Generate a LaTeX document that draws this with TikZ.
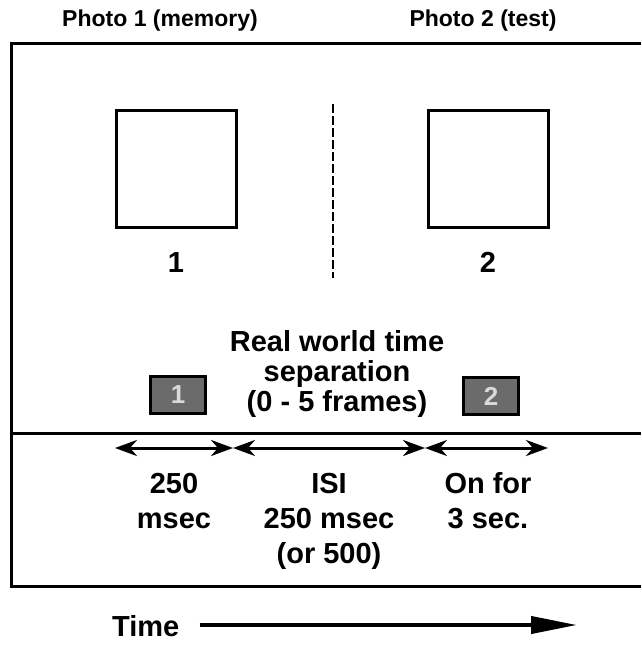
\documentclass[tikz,border=0pt]{standalone}
\usepackage{fontspec}
\setmainfont{Liberation Sans}
\usetikzlibrary{arrows.meta}
\begin{document}
\begin{tikzpicture}[x=1pt,y=-1pt,
  frame/.style={line width=3pt},
  photo/.style={draw,line width=3pt,minimum width=120pt,minimum height=117pt,inner sep=0pt},
  title/.style={font=\fontsize{23}{27}\selectfont\bfseries,anchor=base,inner sep=0pt},
  lab/.style={font=\fontsize{29}{33}\selectfont\bfseries,anchor=base,inner sep=0pt},
  cue/.style={draw,line width=2.2pt,fill=black!58,minimum width=55pt,minimum height=37pt,inner sep=0pt,
    text=white!85!black,font=\fontsize{26}{30}\selectfont\bfseries},
  span/.style={line width=3pt,{Stealth[length=22pt,width=16pt,inset=7pt]}-{Stealth[length=22pt,width=16pt,inset=7pt]}},
  timearrow/.style={line width=4pt,-{Triangle[length=46pt,width=17pt]}}
]
\useasboundingbox (0,0) rectangle (641,647);

% column headings
\node[title] (h1) at (160,27) {Photo 1 (memory)};
\node[title] (h2) at (483,27) {Photo 2 (test)};

% open frame and its divider
\coordinate (ftr) at (641,44);
\coordinate (ftl) at (11,44);
\coordinate (fbl) at (11,586);
\coordinate (fbr) at (641,586);
\coordinate (dl) at (11,433);
\coordinate (dr) at (641,433);
\draw[frame] (ftr) -- (ftl) -- (fbl) -- (fbr);
\draw[frame] (dl) -- (dr);

% the two photographs
\node[photo] (p1) at (176,169) {};
\node[photo] (p2) at (488,169) {};
\node[lab] (n1) at (176,272) {1};
\node[lab] (n2) at (488,272) {2};

% separator between the photos
\coordinate (sepTop) at (333,104);
\coordinate (sepBot) at (333,278);
\draw[line width=2.2pt,dash pattern=on 9pt off 3pt] (sepTop) -- (sepBot);

% separation note and onset cues
\node[lab] (r1) at (337,351) {Real world time};
\node[lab] (r2) at (337,381) {separation};
\node[lab] (r3) at (337,411) {(0 - 5 frames)};
\node[cue] (c1) at (178,395) {1};
\node[cue] (c2) at (491,396) {2};

% timeline intervals
\coordinate (t0) at (115,448);
\coordinate (t1) at (233,448);
\coordinate (t2) at (425,448);
\coordinate (t3) at (548,448);
\draw[span] (t0) -- (t1);
\draw[span] (t1) -- (t2);
\draw[span] (t2) -- (t3);

\node[lab] (a1) at (174,493) {250};
\node[lab] (a2) at (174,528) {msec};
\node[lab] (b1) at (329,493) {ISI};
\node[lab] (b2) at (329,528) {250 msec};
\node[lab] (b3) at (329,563) {(or 500)};
\node[lab] (d1) at (488,493) {On for};
\node[lab] (d2) at (488,528) {3 sec.};

% time direction
\node[lab,anchor=base west] (tm) at (112,636) {Time};
\coordinate (te) at (577,625);
\draw[timearrow] (tm.east |- te) ++(20,0) coordinate (ts) -- (te);
\end{tikzpicture}
\end{document}
